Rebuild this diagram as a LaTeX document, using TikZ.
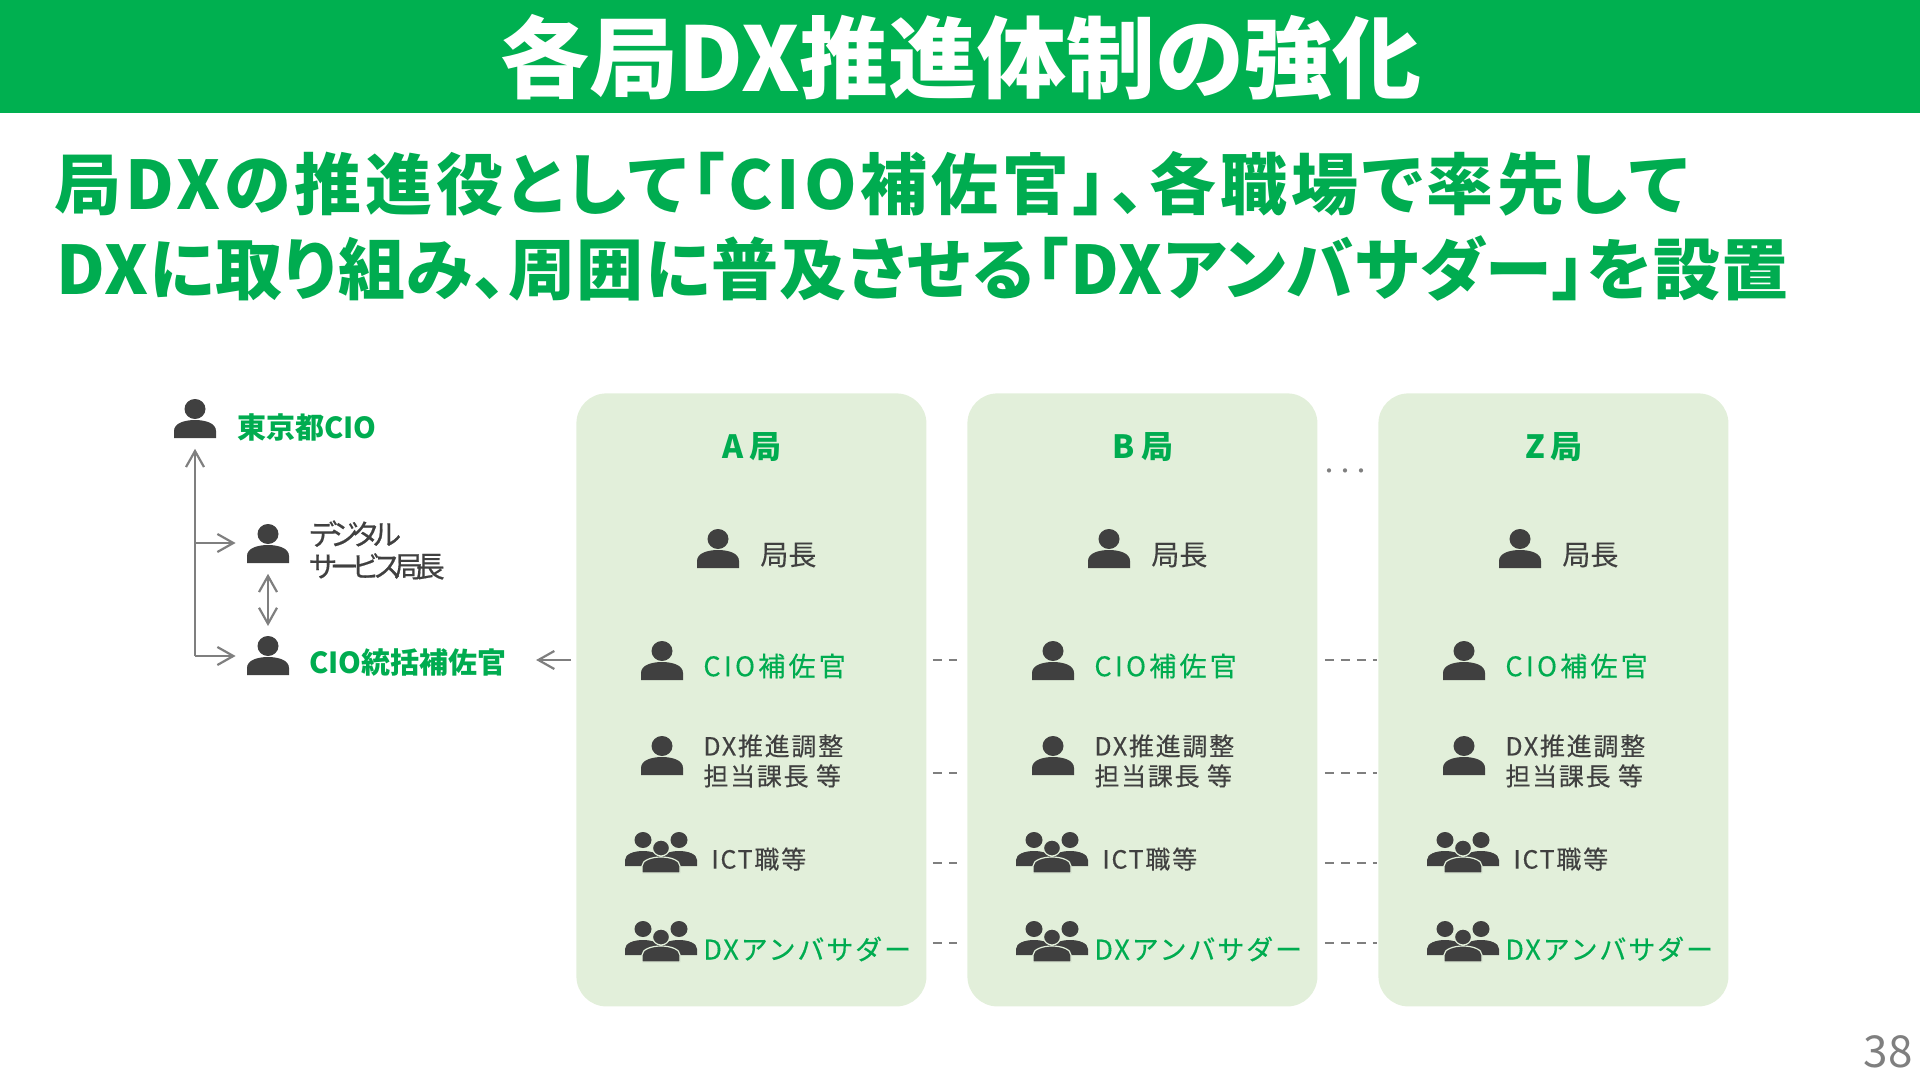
\documentclass[tikz,border=0pt]{standalone}
\usepackage{xcolor}
\usepackage{fontspec}
\usetikzlibrary{arrows.meta,positioning,calc}
\setmainfont{Noto Sans CJK JP}[RawFeature={+palt}]
\newfontfamily\spaced{Noto Sans CJK JP}[LetterSpace=7, FakeBold=0.25]
\newfontfamily\spacedg{Noto Sans CJK JP}[LetterSpace=12, FakeBold=0.4]
\newfontfamily\spacedk{Noto Sans CJK JP}[LetterSpace=7, FakeBold=0.4]
\newfontfamily\plainm{Noto Sans CJK JP}[FakeBold=0.25]
\newfontfamily\tight{Noto Sans CJK JP}[LetterSpace=-26, FakeBold=0.6]
\definecolor{barc}{HTML}{00B050}
\definecolor{headc}{HTML}{00AC50}
\definecolor{panelc}{HTML}{E2EFDA}
\definecolor{ink}{HTML}{404040}
\definecolor{greyc}{HTML}{7F7F7F}
\tikzset{
  panel/.style={fill=panelc, rounded corners=15pt, minimum width=175pt, minimum height=306.5pt, inner sep=0pt, anchor=north west},
  iconbox/.style={minimum width=21pt, minimum height=19.5pt, inner sep=0pt, anchor=north},
  headl/.style={font=\fontsize{33.5}{36}\selectfont\bfseries, text=headc, anchor=west, inner sep=0pt},
  bureau/.style={font=\fontsize{16}{17}\selectfont\bfseries, text=headc, inner sep=0pt},
  role/.style={font=\spaced\fontsize{12.5}{15}\selectfont, text=ink, anchor=west, align=left, inner sep=0pt},
  rolegrn/.style={role, font=\spacedg\fontsize{13.5}{15}\selectfont, text=headc},
  sidel/.style={font=\fontsize{14.5}{16}\selectfont\bfseries, text=headc, anchor=west, inner sep=0pt},
  arr/.style={-{Straight Barb[length=8pt,width=9pt]}, line width=1.1pt, draw=greyc},
  darr/.style={{Straight Barb[length=8pt,width=9pt]}-{Straight Barb[length=8pt,width=9pt]}, line width=1.1pt, draw=greyc},
  dashc/.style={draw=greyc, line width=0.8pt, dash pattern=on 4.5pt off 3.5pt},
  personpic/.pic={
    \fill[ink] (0,10) ellipse (10.5 and 10);
    \fill[ink] (-21,39) -- (-21,32) .. controls (-21,24) and (-10,21) .. (0,21) .. controls (10,21) and (21,24) .. (21,32) -- (21,39) -- cycle;
  },
  grouppic/.pic={
    \fill[ink] (-18,7) ellipse (8.5 and 8);
    \fill[ink] (18,7) ellipse (8.5 and 8);
    \fill[ink] (-36,33) -- (-36,27) .. controls (-36,21) and (-27,18) .. (-18,18) .. controls (-9,18) and (0,21) .. (0,27) -- (0,33) -- cycle;
    \fill[ink] (36,33) -- (36,27) .. controls (36,21) and (27,18) .. (18,18) .. controls (9,18) and (0,21) .. (0,27) -- (0,33) -- cycle;
    \filldraw[ink, draw=panelc, line width=0.6pt] (0,15) ellipse (8.5 and 8);
    \filldraw[ink, draw=panelc, line width=0.6pt] (-19,40) -- (-19,33) .. controls (-19,27) and (-9,24) .. (0,24) .. controls (9,24) and (19,27) .. (19,33) -- (19,40) -- cycle;
  },
}
\begin{document}
\begin{tikzpicture}[x=0.5pt, y=-0.5pt]
  \useasboundingbox (0,0) rectangle (1920,1080);
  % one column per bureau: prefix, left edge, title
  \newcommand{\bureaucol}[3]{%
    \node[bureau] (#1t) at (#2+176,447) {#3\hspace{3pt}局};
    \node[iconbox] (#1i1) at (#2+142,529) {};
    \pic at (#2+142,529) {personpic};
    \node[role, font=\plainm\fontsize{14}{15}\selectfont] (#1l1) at (#2+184,555) {局長};
    \node[iconbox] (#1i2) at (#2+86,641) {};
    \pic at (#2+86,641) {personpic};
    \node[rolegrn] (#1l2) at (#2+127,666) {CIO補佐官};
    \node[iconbox] (#1i3) at (#2+86,736) {};
    \pic at (#2+86,736) {personpic};
    \node[role] (#1l3) at (#2+127,761) {DX推進調整\\担当課長 等};
    \node[iconbox, minimum width=36pt] (#1i4) at (#2+85,833) {};
    \pic at (#2+85,833) {grouppic};
    \node[role] (#1l4) at (#2+135,859) {ICT職等};
    \node[iconbox, minimum width=36pt] (#1i5) at (#2+85,922) {};
    \pic at (#2+85,922) {grouppic};
    \node[rolegrn, font=\spacedk\fontsize{13.5}{15}\selectfont] (#1l5) at (#2+127,949) {DXアンバサダー};
  }
  \fill[barc] (0,0) rectangle (1920,113);
  \node[font=\fontsize{44.5}{48}\selectfont\bfseries, text=white, inner sep=0pt] (title) at (961,57) {各局DX推進体制の強化};
  \node[headl] (head1) at (54,184) {\addfontfeature{LetterSpace=6}局DXの推進役として「CIO補佐官」、各職場で率先して};
  \node[headl] (head2) at (56,269) {\addfontfeature{LetterSpace=2}DXに取り組み、周囲に普及させる「DXアンバサダー」を設置};
  \node[panel] (pa) at (576,393) {};
  \node[panel] (pb) at (967,393) {};
  \node[panel] (pz) at (1378,393) {};
  \foreach \p/\x/\t in {a/576/A, b/967/B, z/1378/Z} {
    \bureaucol{\p}{\x}{\t}
  }
  % left side
  \node[iconbox] (cio) at (195,399) {};
  \pic at (195,399) {personpic};
  \node[sidel] (ciol) at (237,427) {東京都CIO};
  \node[iconbox] (dgs) at (268,524) {};
  \pic at (268,524) {personpic};
  \node[sidel, font=\tight\fontsize{14.5}{16}\selectfont, text=ink, align=left] (dgsl) at (308,550) {デジタル\\サービス局長};
  \node[iconbox] (cs) at (268,636) {};
  \pic at (268,636) {personpic};
  \node[sidel] (csl) at (309,663) {CIO統括補佐官};
  \coordinate (trunk) at (195,656);
  \coordinate (fork) at (195,543);
  \coordinate (rowa) at (0,660);
  \coordinate (rowb) at (0,773);
  \coordinate (rowc) at (0,863);
  \coordinate (rowd) at (0,943);
  \draw[arr, shorten >=5pt] (trunk) -- (cio.south);
  \draw[arr, shorten >=5.5pt] (fork) -- (dgs.west |- fork);
  \draw[arr, shorten >=5.5pt] (trunk) -- (cs.west |- trunk);
  \draw[darr, shorten <=5pt, shorten >=5pt] (dgs.south) -- (cs.north);
  \draw[arr, shorten <=2.5pt, shorten >=14.5pt] (pa.west |- rowa) -- (csl.east |- rowa);
  \foreach \r in {rowa, rowb, rowc, rowd} {
    \draw[dashc, shorten <=3pt, shorten >=5pt] (pa.east |- \r) -- (pb.west |- \r);
    \draw[dashc, shorten <=3.5pt, shorten >=0.5pt] (pb.east |- \r) -- (pz.west |- \r);
  }
  \node[text=greyc, font=\fontsize{10}{10}\selectfont, inner sep=0pt] (dots) at (1345,474) {\addfontfeature{LetterSpace=30}・・・};
  \node[text=greyc, font=\fontsize{22}{22}\selectfont, anchor=east, inner sep=0pt] (pageno) at (1913,1052) {38};
\end{tikzpicture}
\end{document}
